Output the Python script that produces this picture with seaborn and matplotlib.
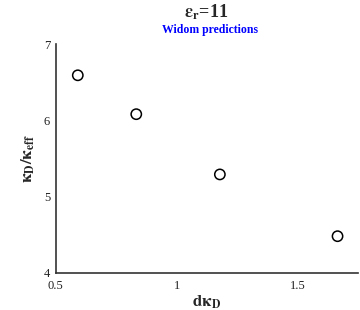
import matplotlib
matplotlib.use('Agg')
import matplotlib.pyplot as plt
import seaborn as sns
import pandas as pd

# values
d_kappa = [0.591, 0.833, 1.179, 1.666]
kappa_ratio = [6.59, 6.08, 5.29, 4.48]
x_ticks = [0.5, 1, 1.5]
x_tick_labels = ['0.5', '1', '1.5']
y_ticks = [4, 5, 6, 7]

data = pd.DataFrame({'dk': d_kappa, 'ratio': kappa_ratio})

sns.set_style('white')
plt.rcParams['font.family'] = ['Liberation Serif', 'DejaVu Serif']
plt.rcParams['mathtext.fontset'] = 'stix'

fig = plt.figure(figsize=(3.6, 3.1), dpi=100)
ax = fig.add_axes([0.155, 0.12, 0.839, 0.738])

sns.scatterplot(data=data, x='dk', y='ratio', ax=ax, marker='o', s=55,
                facecolor='none', edgecolor='black', linewidth=1.1)

ax.set_xlim(0.5, 1.75)
ax.set_ylim(4, 7)
ax.set_xticks(x_ticks)
ax.set_xticklabels(x_tick_labels)
ax.set_yticks(y_ticks)
ax.tick_params(direction='in', length=3, width=0.8, labelsize=9,
               colors='#333333', labelcolor='#222222')
ax.tick_params(axis='x', pad=5)
ax.tick_params(axis='y', pad=4)
for side in ['top', 'right']:
    ax.spines[side].set_visible(False)
for side in ['left', 'bottom']:
    ax.spines[side].set_color('#333333')
    ax.spines[side].set_linewidth(1.2)

ax.set_xlabel(r'$\mathbf{d\kappa_D}$', fontsize=12, labelpad=1)
ax.set_ylabel(r'$\mathbf{\kappa_D/\kappa_{eff}}$', fontsize=12, labelpad=5)

fig.text(0.573, 0.962, r'$\mathbf{\varepsilon_r}$=11', ha='center', va='center',
         fontsize=13, fontweight='bold')
fig.text(0.583, 0.903, 'Widom predictions', ha='center', va='center',
         fontsize=8.5, fontweight='bold', color='#0000ff')

fig.savefig('out.png', dpi=100)
